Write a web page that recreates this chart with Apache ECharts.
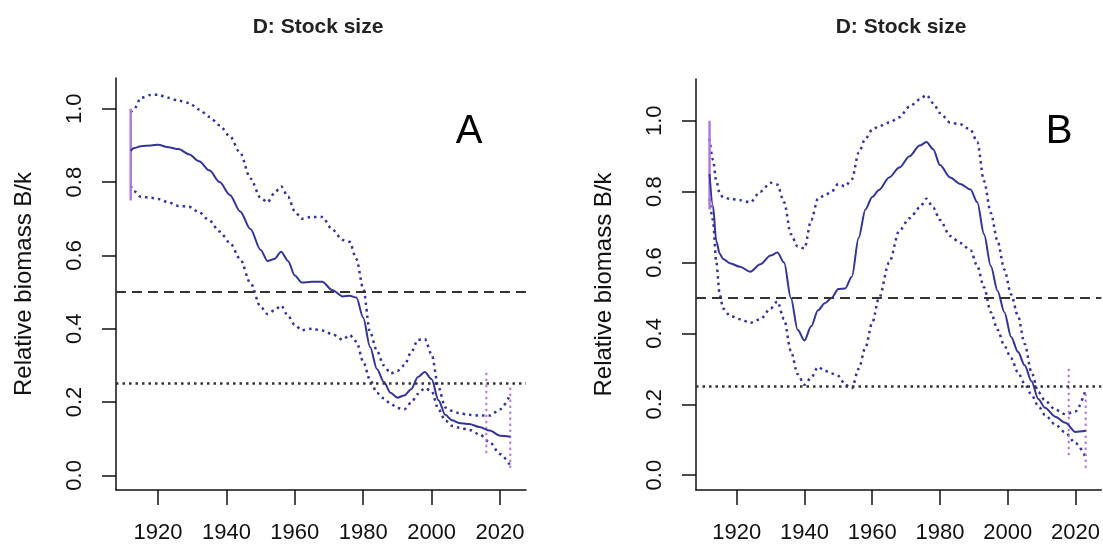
<!DOCTYPE html>
<html>
<head>
<meta charset="utf-8">
<script src="https://cdn.jsdelivr.net/npm/echarts@6/dist/echarts.min.js"></script>
<style>
html,body{margin:0;padding:0;background:#fff;}
#chart{width:1103px;height:544px;}
</style>
</head>
<body>
<div id="chart"></div>
<script>
// ---------- DATA ----------
const panelTitles = ['D: Stock size', 'D: Stock size'];
const panelLetters = ['A', 'B'];
const yAxisTitle = 'Relative biomass B/k';
const xTicks = [1920, 1940, 1960, 1980, 2000, 2020];
const yTicks = [0.0, 0.2, 0.4, 0.6, 0.8, 1.0];
const refDashed = 0.5;
const refDotted = 0.25;

// Panel A
const yearsA = [1912,1913,1915,1918,1920,1923,1926,1929,1932,1935,1938,1941,1944,1947,1950,1952,1954,1956,1958,1960,1962,1965,1968,1971,1974,1976,1978,1980,1982,1984,1986,1988,1990,1992,1994,1996,1998,2000,2002,2004,2006,2008,2011,2014,2017,2020,2023];
const medianA = [0.885,0.893,0.898,0.900,0.902,0.895,0.890,0.876,0.857,0.832,0.800,0.765,0.720,0.672,0.615,0.585,0.590,0.610,0.585,0.545,0.526,0.528,0.528,0.505,0.488,0.490,0.485,0.430,0.350,0.290,0.255,0.225,0.212,0.218,0.235,0.268,0.282,0.262,0.205,0.165,0.150,0.143,0.140,0.132,0.122,0.108,0.105];
const upperA  = [0.990,1.000,1.030,1.038,1.038,1.030,1.022,1.016,0.998,0.978,0.955,0.925,0.880,0.810,0.757,0.745,0.770,0.788,0.760,0.720,0.700,0.705,0.705,0.670,0.642,0.637,0.590,0.510,0.390,0.340,0.300,0.278,0.285,0.300,0.335,0.370,0.372,0.330,0.240,0.185,0.176,0.170,0.165,0.163,0.163,0.180,0.220];
const lowerA  = [0.790,0.775,0.760,0.757,0.754,0.745,0.735,0.733,0.718,0.695,0.665,0.635,0.590,0.525,0.460,0.440,0.450,0.463,0.435,0.410,0.396,0.400,0.395,0.385,0.370,0.383,0.365,0.310,0.260,0.225,0.210,0.195,0.184,0.180,0.198,0.222,0.238,0.230,0.180,0.150,0.135,0.130,0.124,0.112,0.090,0.058,0.027];
const startYearA = 1912, startRangeA = [0.75, 1.0];
const intYearA = 2016,   intRangeA = [0.06, 0.29];
const endYearA = 2023,   endRangeA = [0.02, 0.25];

// Panel B
const yearsB = [1912,1913,1914,1915,1916,1918,1921,1924,1927,1930,1932,1934,1936,1938,1940,1942,1944,1946,1948,1950,1952,1954,1956,1958,1960,1962,1965,1968,1971,1974,1976,1978,1980,1983,1986,1989,1991,1993,1995,1997,1999,2001,2003,2005,2007,2009,2011,2014,2017,2020,2023];
const medianB = [0.850,0.760,0.660,0.625,0.610,0.598,0.588,0.574,0.595,0.620,0.628,0.600,0.500,0.410,0.380,0.420,0.465,0.485,0.500,0.525,0.527,0.560,0.670,0.750,0.785,0.805,0.840,0.868,0.900,0.930,0.940,0.920,0.875,0.840,0.822,0.806,0.770,0.680,0.590,0.520,0.460,0.390,0.348,0.310,0.265,0.215,0.190,0.165,0.148,0.122,0.125];
const upperB  = [0.950,0.890,0.830,0.795,0.784,0.780,0.776,0.770,0.800,0.825,0.820,0.770,0.680,0.645,0.640,0.720,0.780,0.790,0.800,0.822,0.815,0.835,0.910,0.950,0.975,0.985,0.995,1.010,1.040,1.060,1.073,1.050,1.022,0.995,0.990,0.975,0.940,0.830,0.740,0.660,0.580,0.510,0.450,0.370,0.290,0.235,0.210,0.185,0.172,0.180,0.240];
const lowerB  = [0.780,0.720,0.600,0.510,0.470,0.450,0.440,0.430,0.440,0.470,0.490,0.440,0.350,0.285,0.255,0.275,0.305,0.295,0.287,0.280,0.255,0.245,0.300,0.360,0.430,0.500,0.600,0.690,0.725,0.755,0.780,0.755,0.720,0.675,0.655,0.635,0.590,0.530,0.460,0.410,0.365,0.330,0.290,0.258,0.227,0.195,0.170,0.143,0.120,0.090,0.050];
const startYearB = 1912, startRangeB = [0.75, 1.0];
const intYearB = 2018,   intRangeB = [0.056, 0.30];
const endYearB = 2023,   endRangeB = [0.02, 0.23];

// ---------- STYLE / BUILD ----------
const BLUE = '#34349a';
const PURPLE = '#b27ad9';
const FONT = '"Liberation Sans", Arial, sans-serif';
const zip = (xs, ys) => xs.map((x, i) => [x, ys[i]]);

function xAxisCfg(idx, min, max) {
  return {
    type: 'value', gridIndex: idx, min: min, max: max,
    splitLine: {show: false},
    axisLine: {show: true, onZero: false, lineStyle: {color: '#111', width: 1.5}},
    axisTick: {show: true, customValues: xTicks, length: 15, lineStyle: {color: '#111', width: 1.5}},
    axisLabel: {customValues: xTicks, fontSize: 22, margin: 32, color: '#111', fontFamily: FONT,
      formatter: v => String(Math.round(v))}
  };
}
function yAxisCfg(idx, min, max) {
  return {
    type: 'value', gridIndex: idx, min: min, max: max,
    splitLine: {show: false},
    name: yAxisTitle, nameLocation: 'middle', nameRotate: 90, nameGap: 80,
    nameTextStyle: {fontSize: 24, color: '#111', fontFamily: FONT},
    axisLine: {show: true, onZero: false, lineStyle: {color: '#111', width: 1.5}},
    axisTick: {show: true, customValues: yTicks, length: 14, lineStyle: {color: '#111', width: 1.5}},
    axisLabel: {customValues: yTicks, rotate: 90, fontSize: 22, margin: 30, color: '#111', fontFamily: FONT,
      formatter: v => v.toFixed(1)}
  };
}
function panelSeries(idx, years, med, up, lo, sY, sR, iY, iR, eY, eR) {
  const base = {type: 'line', xAxisIndex: idx, yAxisIndex: idx, showSymbol: false, symbol: 'none', animation: false};
  return [
    Object.assign({}, base, {
      data: zip(years, up), smooth: 0.3, smoothMonotone: 'x',
      lineStyle: {color: BLUE, width: 2.5, type: [2.5, 4]},
      markLine: {silent: true, symbol: 'none', label: {show: false},
        data: [
          {yAxis: refDashed, lineStyle: {color: '#333', width: 2, type: [10, 6]}},
          {yAxis: refDotted, lineStyle: {color: '#333', width: 2.5, type: [2.5, 4]}}
        ]}
    }),
    Object.assign({}, base, {data: zip(years, lo), smooth: 0.3, smoothMonotone: 'x',
      lineStyle: {color: BLUE, width: 2.5, type: [2.5, 4]}}),
    Object.assign({}, base, {data: [[sY, sR[0]], [sY, sR[1]]], lineStyle: {color: PURPLE, width: 2.5}}),
    Object.assign({}, base, {data: [[iY, iR[0]], [iY, iR[1]]], lineStyle: {color: PURPLE, width: 2, type: [2.5, 3.5]}}),
    Object.assign({}, base, {data: [[eY, eR[0]], [eY, eR[1]]], lineStyle: {color: PURPLE, width: 2, type: [2.5, 3.5]}}),
    Object.assign({}, base, {data: zip(years, med), smooth: 0.3, smoothMonotone: 'x',
      lineStyle: {color: BLUE, width: 2}})
  ];
}

const chart = echarts.init(document.getElementById('chart'), null, {renderer: 'canvas'});
chart.setOption({
  animation: false,
  backgroundColor: '#fff',
  grid: [
    {left: 116, top: 78, width: 410, height: 415, containLabel: false},
    {left: 696, top: 79, width: 410, height: 414, containLabel: false}
  ],
  xAxis: [xAxisCfg(0, 1907.7, 2027.6), xAxisCfg(1, 1908, 2027.6)],
  yAxis: [yAxisCfg(0, -0.04, 1.084), yAxisCfg(1, -0.042, 1.118)],
  series: [].concat(
    panelSeries(0, yearsA, medianA, upperA, lowerA, startYearA, startRangeA, intYearA, intRangeA, endYearA, endRangeA),
    panelSeries(1, yearsB, medianB, upperB, lowerB, startYearB, startRangeB, intYearB, intRangeB, endYearB, endRangeB)
  ),
  graphic: [
    {type: 'text', x: 318, y: 27, style: {text: panelTitles[0], fill: '#222', font: 'bold 21px ' + FONT, align: 'center', verticalAlign: 'middle'}},
    {type: 'text', x: 901, y: 27, style: {text: panelTitles[1], fill: '#222', font: 'bold 21px ' + FONT, align: 'center', verticalAlign: 'middle'}},
    {type: 'text', x: 469, y: 132, style: {text: panelLetters[0], fill: '#000', font: '40px ' + FONT, align: 'center', verticalAlign: 'middle'}},
    {type: 'text', x: 1059, y: 132, style: {text: panelLetters[1], fill: '#000', font: '40px ' + FONT, align: 'center', verticalAlign: 'middle'}}
  ]
});
</script>
</body>
</html>
